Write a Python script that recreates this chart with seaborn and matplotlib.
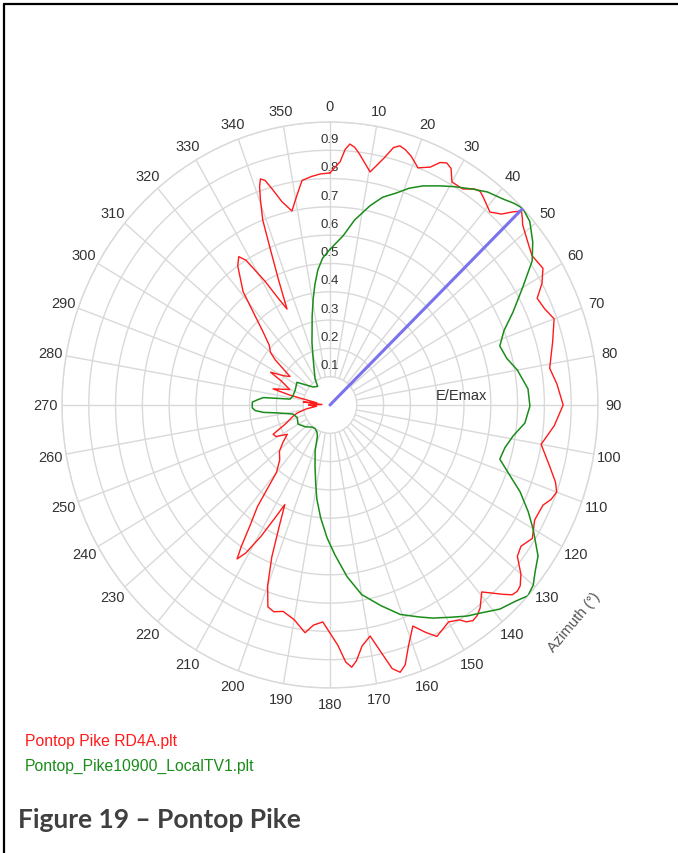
import matplotlib
matplotlib.use("Agg")
import matplotlib.pyplot as plt  # graficos
import seaborn as sns  # graficos
import numpy as np  # vectores
from matplotlib.lines import Line2D

# datos (azimut en grados, E/Emax)
red_label = "Pontop Pike RD4A.plt"
red_az = [0, 2.5, 3.6, 4.6, 5.8, 7, 10.3, 13, 14.6, 15.9, 17.3, 19, 21.4, 24, 25.6, 27, 28.4, 30, 33,
          35.3, 36.6, 38, 41.2, 43.5, 45, 46.2, 47.4, 48.5, 51.4, 55, 58.7, 61.5, 64, 67, 70, 75, 81,
          85, 90, 95, 100, 105, 108, 110, 112, 114, 118, 122, 125, 127.4, 130, 132, 133.3, 134.6,
          136, 139.4, 142, 143.6, 145, 146.4, 147.5, 150, 154, 156, 158.4, 161, 163, 164.5, 166,
          167, 169.6, 172, 173.8, 175, 176.3, 178, 182, 184.5, 186.6, 190, 193.5, 196, 198, 200,
          202, 204, 205.6, 207, 209, 211, 212.5, 213.5, 215, 217, 220, 224, 229, 233, 237, 241,
          244, 248, 254, 257, 261, 265, 268, 270, 273, 276, 279, 283, 285, 290, 295, 297.6, 301,
          304, 308, 310, 313, 316, 321, 325, 327, 328.5, 331, 333, 334.7, 336.5, 338, 339, 340.3,
          341.2, 342, 343, 344, 346, 348.3, 350.5, 352.5, 355, 357.4, 360]
red_r = [0.82, 0.86, 0.905, 0.925, 0.915, 0.895, 0.837, 0.895, 0.94, 0.952, 0.945, 0.93, 0.90, 0.92,
         0.95, 0.96, 0.95, 0.91, 0.91, 0.935, 0.94, 0.93, 0.906, 0.93, 0.965, 0.99, 0.975, 0.96, 0.94,
         0.92, 0.93, 0.90, 0.86, 0.87, 0.89, 0.86, 0.83, 0.85, 0.87, 0.84, 0.80, 0.85, 0.885, 0.90,
         0.89, 0.87, 0.865, 0.89, 0.87, 0.88, 0.93, 0.955, 0.96, 0.955, 0.93, 0.87, 0.91, 0.925, 0.93,
         0.92, 0.90, 0.885, 0.91, 0.88, 0.84, 0.90, 0.96, 0.98, 0.96, 0.92, 0.83, 0.86, 0.91, 0.93,
         0.91, 0.85, 0.767, 0.78, 0.81, 0.77, 0.75, 0.76, 0.75, 0.68, 0.58, 0.46, 0.39, 0.44, 0.53,
         0.61, 0.645, 0.60, 0.52, 0.45, 0.31, 0.27, 0.25, 0.22, 0.19, 0.23, 0.236, 0.18, 0.143,
         0.125, 0.09, 0.05, 0.07, 0.08, 0.03, 0.10, 0.05, 0.15, 0.22, 0.16, 0.20, 0.25, 0.20, 0.18,
         0.26, 0.29, 0.31, 0.36, 0.515, 0.60, 0.625, 0.60, 0.50, 0.42, 0.375, 0.48, 0.595, 0.70,
         0.77, 0.815, 0.84, 0.83, 0.80, 0.74, 0.70, 0.75, 0.80, 0.81, 0.817, 0.82]

green_label = "Pontop_Pike10900_LocalTV1.plt"
green_az = [0, 4.7, 8, 12, 15, 18.4, 21, 24.1, 27.9, 31, 35, 38, 41.6, 44, 46, 49, 52.7, 56, 60,
            64.3, 68, 71.8, 76, 80, 85.6, 90.3, 95, 99.1, 103, 106.8, 110, 113.4, 117, 120, 124.5,
            127.6, 130, 132.4, 135, 138.7, 142, 145.6, 149, 153, 156, 160.5, 165, 170, 174, 178,
            181.3, 185, 188.4, 191, 194.5, 199, 203, 207, 214, 220.7, 230, 240.6, 250, 257, 262,
            264, 266, 268, 270, 272, 274, 276, 278, 283, 292, 303, 315, 325, 329, 335, 339, 343,
            345.5, 348, 350.5, 352.5, 354.6, 357, 360]
green_r = [0.55, 0.60, 0.66, 0.72, 0.76, 0.79, 0.82, 0.848, 0.876, 0.90, 0.931, 0.955, 0.973, 0.99,
           1.0, 0.988, 0.951, 0.91, 0.83, 0.758, 0.70, 0.667, 0.68, 0.71, 0.741, 0.746, 0.73, 0.692,
           0.67, 0.662, 0.71, 0.773, 0.83, 0.875, 0.942, 0.966, 0.99, 1.0, 0.98, 0.96, 0.93, 0.904,
           0.875, 0.845, 0.82, 0.785, 0.734, 0.68, 0.61, 0.53, 0.47, 0.40, 0.336, 0.28, 0.223, 0.17,
           0.12, 0.107, 0.10, 0.103, 0.12, 0.137, 0.13, 0.142, 0.20, 0.25, 0.28, 0.29, 0.29, 0.29,
           0.27, 0.25, 0.15, 0.142, 0.14, 0.147, 0.09, 0.08, 0.108, 0.14, 0.175, 0.23, 0.267, 0.32,
           0.38, 0.43, 0.48, 0.52, 0.55]

# maximo marcado con la linea azul
max_az = 46
max_r = 1.0

angle_ticks = list(range(0, 360, 10))
radial_ticks = [0.1, 0.2, 0.3, 0.4, 0.5, 0.6, 0.7, 0.8, 0.9]

sns.set_style("white")
plt.rcParams["font.family"] = ["Liberation Sans", "DejaVu Sans"]

fig = plt.figure(figsize=(6.78, 8.54), dpi=100)
ax = fig.add_axes([0.0914, 0.1932, 0.7906, 0.6628], projection="polar")
ax.set_aspect("auto")
ax.set_theta_zero_location("N")
ax.set_theta_direction(-1)
ax.set_ylim(0, 1)

grid_col = "#d9d9d9"
ax.set_yticks(radial_ticks + [1.0])
ax.set_yticklabels([])
ax.yaxis.grid(True, color=grid_col, lw=1)
ax.xaxis.grid(False)
ax.spines["polar"].set_color(grid_col)
ax.spines["polar"].set_linewidth(1)
ax.vlines(np.deg2rad(angle_ticks), 0.1, 1.0, colors=grid_col, lw=1, zorder=1)

ax.set_xticks(np.deg2rad(angle_ticks))
ax.set_xticklabels([str(a) for a in angle_ticks], fontsize=10.5, color="#333333")
ax.tick_params(axis="x", pad=1)

for v in radial_ticks:
    ax.text(0, v + 0.04, f"{v:.1f}", fontsize=9.5, color="#333333", ha="center", va="center", zorder=2)

sns.lineplot(x=np.deg2rad(red_az), y=red_r, ax=ax, color="#ff1a1a", lw=1.0, sort=False,
             estimator=None, zorder=3)
sns.lineplot(x=np.deg2rad(green_az), y=green_r, ax=ax, color="#1a8c1a", lw=1.1, sort=False,
             estimator=None, zorder=3)
ax.plot([np.deg2rad(max_az)] * 2, [0, max_r], color="#7b72ee", lw=2.2, zorder=4)
ax.set_xlabel("")
ax.set_ylabel("")

ax.text(np.deg2rad(86), 0.49, "E/Emax", fontsize=10.5, color="#333333", ha="center", va="center")
ax.text(np.deg2rad(130), 1.19, "Azimuth (°)", fontsize=10.5, color="#555555", rotation=50,
        ha="center", va="center", clip_on=False)

# leyenda como texto
fig.text(25 / 678, 1 - 742 / 854, red_label, color="#ff1a1a", fontsize=11.3, va="center")
fig.text(25 / 678, 1 - 766 / 854, green_label, color="#1a8c1a", fontsize=11.3, va="center")

fig.text(18 / 678, 1 - 820 / 854, "Figure 19 \u2013 Pontop Pike", family=["Lato", "DejaVu Sans"],
         fontweight="bold", fontsize=19, color="#404040", va="center")

# marco
fig.add_artist(Line2D([4 / 678, 4 / 678], [0, 1 - 5 / 854], color="black", lw=1.6))
fig.add_artist(Line2D([4 / 678, 1], [1 - 5 / 854, 1 - 5 / 854], color="black", lw=1.6))

fig.savefig("out.png", dpi=100)
